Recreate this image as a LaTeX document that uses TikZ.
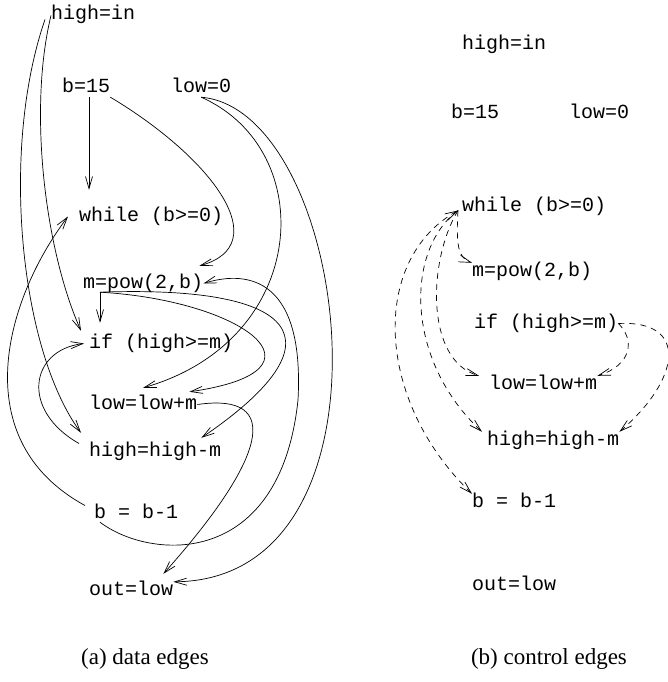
\documentclass[tikz,border=0pt]{standalone}
\usepackage{fontspec}
\setmainfont{Liberation Serif}
\setmonofont{Liberation Mono}
\usetikzlibrary{arrows.meta}

\begin{document}
\begin{tikzpicture}[
    x=1pt, y=-1pt,
    >={Straight Barb[length=12pt, width=7pt]},
    T/.style={font=\ttfamily\fontsize{20}{24}\selectfont, inner sep=0pt,
              anchor=base west, text height=13pt, text depth=4pt},
    C/.style={font=\fontsize{23}{28}\selectfont, inner sep=0pt, anchor=base},
    A/.style={->, line width=0.7pt},
    K/.style={A, dash pattern=on 6pt off 5pt}
]
\useasboundingbox (0,0) rectangle (668,682);

% === (a) DATA EDGES ===
\node[T] (hinA) at (51,20) {high=in};
\node[T] (b15A) at (62,93) {b=15};
\node[T] (low0A) at (171,93) {low=0};
\node[T] (whA) at (79,221) {while (b>=0)};
\node[T] (mA) at (83,288) {m=pow(2,b)};
\node[T] (ifA) at (89,348) {if (high>=m)};
\node[T] (llmA) at (89,409) {low=low+m};
\node[T] (hhmA) at (89,456) {high=high-m};
\node[T] (bm1A) at (94,518) {b = b-1};
\node[T] (outA) at (89,595) {out=low};

\coordinate (b15footA) at ([xshift=27pt]b15A.south west);
\coordinate (mfootA) at ([xshift=17pt]mA.south west);

\draw[A] (hinA.west) .. controls (28,110) and (45,250) .. ([shift={(-8,-4)}]ifA.north west);
\draw[A] ([shift={(-6,4)}]hinA.west) .. controls (0,150) and (20,350) .. ([shift={(-8,-10)}]hhmA.north west);
\draw[A, shorten >=18pt] (b15footA) -- (b15footA |- whA.north);
\draw[A] (b15A.south east) .. controls (215,160) and (275,245) .. ([shift={(-4,-9)}]mA.north east);
\draw[A] (low0A.south) .. controls (320,150) and (310,340) .. ([yshift=8pt]llmA.north);
\draw[A] (low0A.south) .. controls (350,110) and (410,580) .. (outA.north east);
\draw[A, shorten >=12pt] (mfootA) -- (mfootA |- ifA.north);
\draw[A] (mfootA) .. controls (240,300) and (340,370) .. ([shift={(-8,-4)}]llmA.north east);
\draw[A] (mfootA) .. controls (300,285) and (345,340) .. ([shift={(-20,-5)}]hhmA.north east);
\draw[A] ([shift={(-10,-8)}]hhmA.west) .. controls (20,410) and (30,350) .. ([xshift=-5pt]ifA.west);
\draw[A] (llmA.east) .. controls (285,392) and (265,460) .. ([shift={(-10,-8)}]outA.north east);
\draw[A] ([shift={(-9,-8)}]bm1A.west) .. controls (-35,440) and (5,300) .. ([xshift=-11pt]whA.west);
\draw[A] ([xshift=6pt]bm1A.south west) .. controls (150,560) and (280,570) .. (298,400)
    .. controls (305,270) and (240,272) .. (mA.east);

\node[C] (capA) at (145,664) {(a) data edges};

% === (b) CONTROL EDGES ===
\node[T] (hinB) at (462,50) {high=in};
\node[T] (b15B) at (451,118) {b=15};
\node[T] (low0B) at (569,118) {low=0};
\node[T] (whB) at (462,211) {while (b>=0)};
\node[T] (mB) at (472,276) {m=pow(2,b)};
\node[T] (ifB) at (474,328) {if (high>=m)};
\node[T] (llmB) at (489,389) {low=low+m};
\node[T] (hhmB) at (487,445) {high=high-m};
\node[T] (bm1B) at (472,507) {b = b-1};
\node[T] (outB) at (472,590) {out=low};

\coordinate (wfootB) at ([shift={(-4,4)}]whB.west);

\draw[K] (wfootB) .. controls (456,245) and (458,258) .. (mB.north west);
\draw[K] (wfootB) .. controls (428,260) and (425,360) .. ([xshift=-10pt]llmB.north west);
\draw[K] (wfootB) .. controls (405,250) and (405,360) .. ([xshift=-5pt]hhmB.north west);
\draw[K, <->] (wfootB) .. controls (370,260) and (375,400) .. (bm1B.north west);
\draw[K] (ifB.east) .. controls (635,340) and (632,365) .. (llmB.north east);
\draw[K] (ifB.east) .. controls (690,320) and (680,380) .. (hhmB.north east);

\node[C] (capB) at (549,664) {(b) control edges};

\end{tikzpicture}
\end{document}
